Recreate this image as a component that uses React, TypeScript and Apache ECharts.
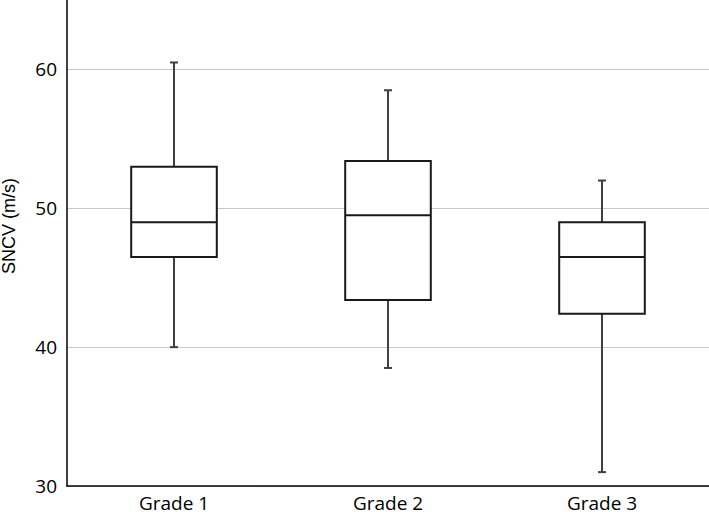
import React, { useEffect, useRef } from "react";
import * as echarts from "echarts";

const categories = ["Grade 1", "Grade 2", "Grade 3"];
const minVals = [40, 38.5, 31];
const q1Vals = [46.5, 43.4, 42.4];
const medianVals = [49, 49.5, 46.5];
const q3Vals = [53, 53.4, 49];
const maxVals = [60.5, 58.5, 52];
const yTicks = [30, 40, 50, 60];
const yTitle = "SNCV (m/s)";

export default function App() {
  const ref = useRef<HTMLDivElement>(null);
  useEffect(() => {
    document.body.style.margin = "0";
    const chart = echarts.init(ref.current!, null, { renderer: "svg" });
    const data = categories.map((_, i) => [i, minVals[i], q1Vals[i], medianVals[i], q3Vals[i], maxVals[i]]);
    chart.setOption({
      animation: false,
      backgroundColor: "#ffffff",
      grid: { left: 67, right: 0, top: 0, bottom: 24, containLabel: false },
      graphic: [
        {
          type: "text",
          x: 9,
          y: 226,
          rotation: Math.PI / 2,
          style: {
            text: yTitle,
            fill: "#000",
            fontSize: 18,
            fontFamily: "Liberation Sans",
            textAlign: "center",
            textVerticalAlign: "middle",
          },
        },
      ],
      xAxis: {
        type: "category",
        data: categories,
        boundaryGap: true,
        axisLine: { lineStyle: { color: "#000", width: 1.5 } },
        axisTick: { show: false },
        axisLabel: { color: "#000", fontSize: 19, fontFamily: "Open Sans", margin: 7 },
        splitLine: { show: false },
      },
      yAxis: {
        type: "value",
        min: yTicks[0],
        max: 65,
        interval: 10,
        axisLine: { show: true, lineStyle: { color: "#000", width: 1.5 } },
        axisTick: { show: false },
        axisLabel: { color: "#000", fontSize: 19, fontFamily: "Open Sans", margin: 10, showMaxLabel: false },
        splitLine: {
          show: true,
          lineStyle: { color: ["#c8c8c8", "#c8c8c8", "#c8c8c8", "#c8c8c8", "rgba(0,0,0,0)"], width: 1 },
        },
      },
      series: [
        {
          type: "custom",
          encode: { x: 0, y: [1, 2, 3, 4, 5] },
          data,
          renderItem: (params: any, api: any) => {
            const idx = api.value(0);
            const pMin = api.coord([idx, api.value(1)]);
            const pQ1 = api.coord([idx, api.value(2)]);
            const pMed = api.coord([idx, api.value(3)]);
            const pQ3 = api.coord([idx, api.value(4)]);
            const pMax = api.coord([idx, api.value(5)]);
            const band = api.size([1, 0])[0];
            const half = (band * 0.4) / 2;
            const cap = 4;
            const x = pMed[0];
            const whisker = { stroke: "#404040", lineWidth: 2 };
            const boxStyle = { stroke: "#1a1a1a", lineWidth: 2, fill: "#ffffff" };
            return {
              type: "group",
              children: [
                { type: "line", shape: { x1: x, y1: pMax[1], x2: x, y2: pQ3[1] }, style: whisker },
                { type: "line", shape: { x1: x - cap, y1: pMax[1], x2: x + cap, y2: pMax[1] }, style: whisker },
                { type: "line", shape: { x1: x, y1: pQ1[1], x2: x, y2: pMin[1] }, style: whisker },
                { type: "line", shape: { x1: x - cap, y1: pMin[1], x2: x + cap, y2: pMin[1] }, style: whisker },
                {
                  type: "rect",
                  shape: { x: x - half, y: pQ3[1], width: half * 2, height: pQ1[1] - pQ3[1] },
                  style: boxStyle,
                },
                { type: "line", shape: { x1: x - half, y1: pMed[1], x2: x + half, y2: pMed[1] }, style: { stroke: "#1a1a1a", lineWidth: 2 } },
              ],
            };
          },
        },
      ],
    });
    return () => chart.dispose();
  }, []);
  return <div ref={ref} style={{ position: "fixed", left: 0, top: 0, width: 709, height: 512 }} />;
}
